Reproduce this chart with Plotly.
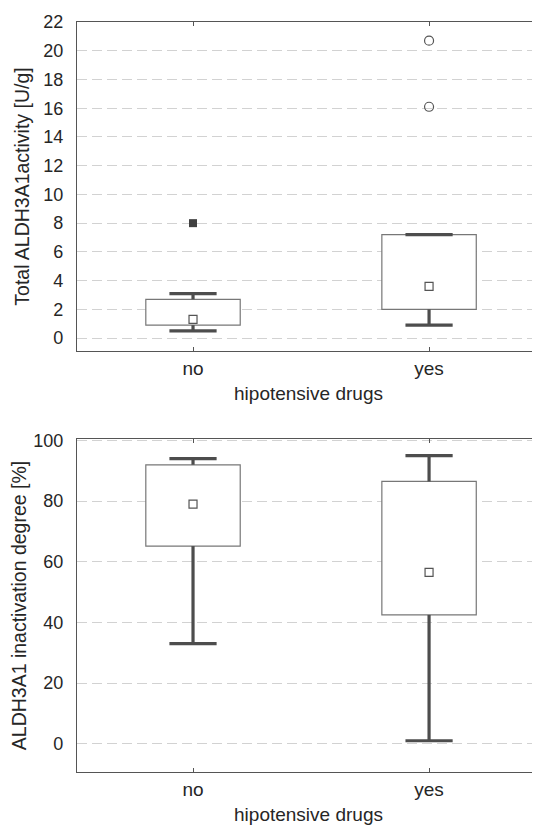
import plotly.graph_objects as go
from plotly.subplots import make_subplots

categories = ["no", "yes"]
xpos = [0, 1]

# Panel 1: Total ALDH3A1 activity [U/g]
act_q1 = [0.9, 2.0]
act_median = [1.3, 3.6]
act_q3 = [2.7, 7.2]
act_low = [0.5, 0.9]
act_high = [3.1, 7.2]
act_outliers_x = [1, 1]
act_outliers_y = [20.7, 16.1]
act_extremes_x = [0]
act_extremes_y = [8.0]

# Panel 2: ALDH3A1 inactivation degree [%]
inact_q1 = [65.2, 42.5]
inact_median = [79.0, 56.5]
inact_q3 = [92.0, 86.5]
inact_low = [33.0, 1.0]
inact_high = [94.0, 95.0]

top_ticks = list(range(0, 23, 2))
bottom_ticks = list(range(0, 101, 20))

BOX_W = 0.4
CAP = 0.1
DARK = "#4d4d4d"
TXT = "#262626"
GRID = "#d2d2d2"
FONT = "Liberation Sans, Arial, sans-serif"

fig = make_subplots(rows=2, cols=1, vertical_spacing=0.0)


def add_panel(row, q1, med, q3, lo, hi):
    fig.add_trace(go.Bar(
        x=xpos, y=[b - a for a, b in zip(q1, q3)], base=q1, width=BOX_W,
        marker=dict(color="white", line=dict(color="#777777", width=1.2)),
        showlegend=False, hoverinfo="skip"), row=row, col=1)
    wx, wy = [], []
    for x, a, b, l, h in zip(xpos, q1, q3, lo, hi):
        wx += [x, x, None, x - CAP, x + CAP, None, x, x, None, x - CAP, x + CAP, None]
        wy += [b, h, None, h, h, None, a, l, None, l, l, None]
    fig.add_trace(go.Scatter(x=wx, y=wy, mode="lines",
                             line=dict(color=DARK, width=3.2),
                             showlegend=False, hoverinfo="skip"), row=row, col=1)
    fig.add_trace(go.Scatter(x=xpos, y=med, mode="markers",
                             marker=dict(symbol="square", size=8, color="white",
                                         line=dict(color="#555555", width=1.2)),
                             showlegend=False), row=row, col=1)


add_panel(1, act_q1, act_median, act_q3, act_low, act_high)
fig.add_trace(go.Scatter(x=act_outliers_x, y=act_outliers_y, mode="markers",
                         marker=dict(symbol="circle-open", size=9, color="#555555",
                                     line=dict(width=1.2)),
                         showlegend=False), row=1, col=1)
fig.add_trace(go.Scatter(x=act_extremes_x, y=act_extremes_y, mode="markers",
                         marker=dict(symbol="square", size=8, color="#404040"),
                         showlegend=False), row=1, col=1)

add_panel(2, inact_q1, inact_median, inact_q3, inact_low, inact_high)

xaxis_common = dict(
    range=[-0.4915, 1.47], tickvals=xpos, ticktext=categories,
    showgrid=False, zeroline=False, showline=True, linecolor="#555555", linewidth=1.3,
    mirror="ticks", ticks="inside", ticklen=4, tickcolor="#555555",
    tickfont=dict(family=FONT, size=19, color=TXT),
    title=dict(text="hipotensive drugs", standoff=8,
               font=dict(family=FONT, size=19, color=TXT)),
)
yaxis_common = dict(
    showgrid=True, gridcolor=GRID, griddash="10px,5px", gridwidth=1,
    zeroline=False, showline=True, linecolor="#555555", linewidth=1.3, mirror=False,
    ticks="", ticklabelstandoff=9,
    tickfont=dict(family=FONT, size=18, color=TXT),
)

fig.update_layout(
    width=532, height=820,
    margin=dict(l=69, r=0, t=14, b=56),
    paper_bgcolor="white", plot_bgcolor="white",
    showlegend=False, barmode="overlay",
    xaxis=dict(xaxis_common, domain=[0, 1]),
    xaxis2=dict(xaxis_common, domain=[0, 1]),
    yaxis=dict(yaxis_common, domain=[0.5613, 1.0], range=[-0.9, 22],
               tickvals=top_ticks,
               title=dict(text="Total ALDH3A1activity [U/g]", standoff=8,
                          font=dict(family=FONT, size=19.5, color=TXT))),
    yaxis2=dict(yaxis_common, domain=[0.0, 0.444], range=[-9.3, 100.5],
                tickvals=bottom_ticks,
                title=dict(text="ALDH3A1 inactivation degree [%]", standoff=8,
                           font=dict(family=FONT, size=19.5, color=TXT))),
)

fig.write_html("out.html")
